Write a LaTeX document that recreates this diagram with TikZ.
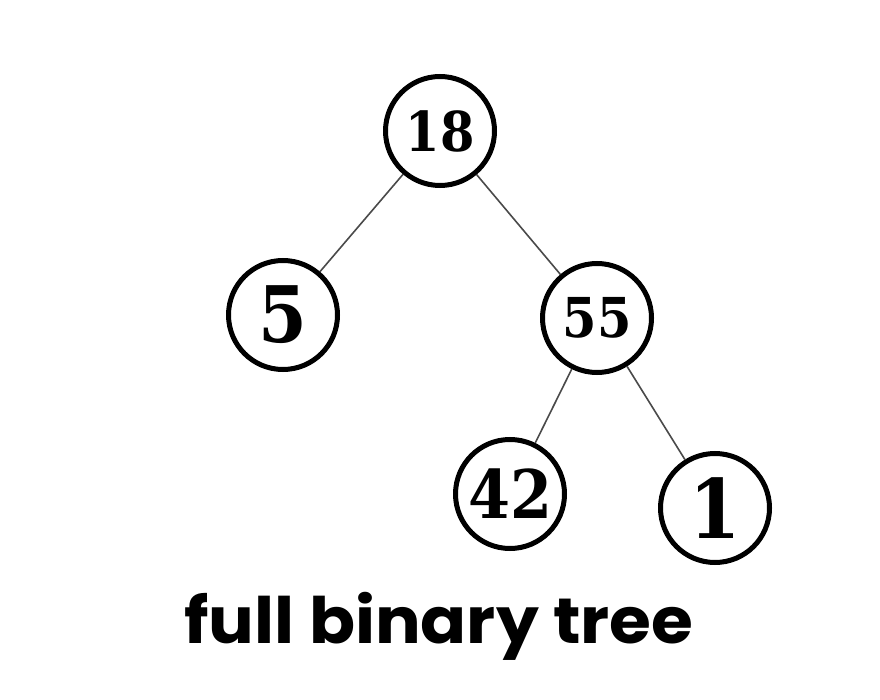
\documentclass[tikz,border=0pt]{standalone}
\usepackage{fontspec}
\usepackage{xcolor}
\usepackage{tikz}
\newfontfamily\digitfont{DejaVu Serif Condensed}
\newfontfamily\captionfont{Poppins}
\definecolor{ink}{HTML}{000000}
\definecolor{edgegray}{HTML}{4A4A4A}
\tikzset{
  key/.style={circle, draw=ink, line width=5pt, minimum size=109pt, inner sep=0pt, text=ink},
  edge/.style={draw=edgegray, line width=1.6pt},
  caption/.style={text=ink, anchor=base}
}

\begin{document}
\begin{tikzpicture}[x=1pt, y=-1pt]
  \useasboundingbox[fill=white] (0,0) rectangle (880,700);

  \node[key, font=\digitfont\bfseries\fontsize{55}{55}\selectfont] (n18) at (440,131) {18};
  \node[key, font=\digitfont\bfseries\fontsize{78}{78}\selectfont] (n5) at (283,315) {5};
  \node[key, font=\digitfont\bfseries\fontsize{55}{55}\selectfont] (n55) at (597,318) {55};
  \node[key, font=\digitfont\bfseries\fontsize{67}{67}\selectfont] (n42) at (510,494) {42};
  \node[key, font=\digitfont\bfseries\fontsize{82}{82}\selectfont] (n1) at (715,508) {1};

  \draw[edge] (n18) -- (n5);
  \draw[edge] (n18) -- (n55);
  \draw[edge] (n55) -- (n42);
  \draw[edge] (n55) -- (n1);

  \node[caption, xscale=1.06, font=\captionfont\bfseries\fontsize{64}{64}\selectfont] (title) at (439,643) {full binary tree};
\end{tikzpicture}
\end{document}
